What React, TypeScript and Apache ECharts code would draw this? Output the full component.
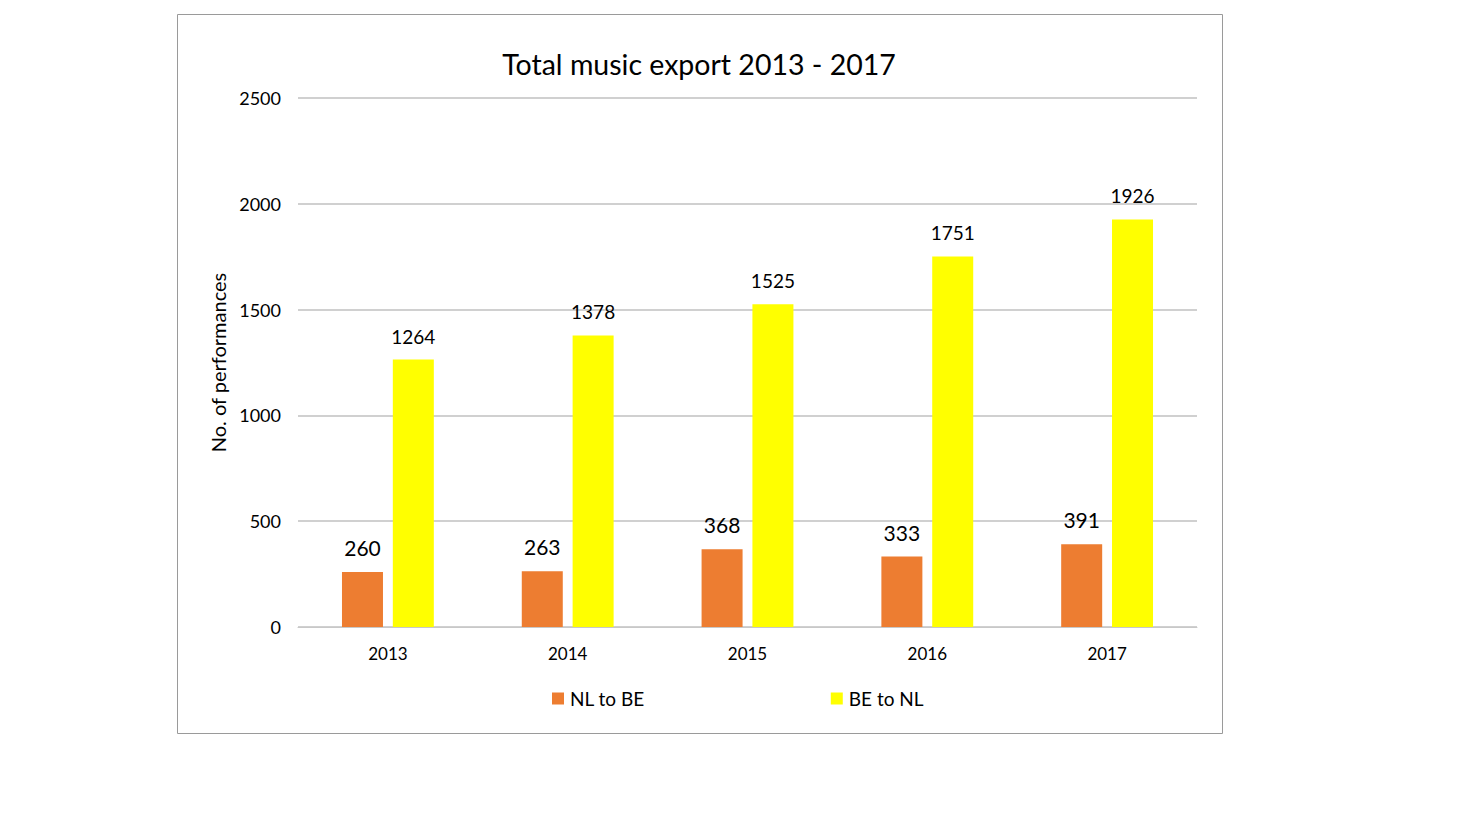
import React, { useEffect, useRef } from "react";
import * as echarts from "echarts";

const years = ["2013", "2014", "2015", "2016", "2017"];
const nlToBe = [260, 263, 368, 333, 391];
const beToNl = [1264, 1378, 1525, 1751, 1926];
const seriesNames = ["NL to BE", "BE to NL"];
const titleText = "Total music export 2013 - 2017";
const yAxisName = "No. of performances";

const FONT = "Lato, 'Open Sans', sans-serif";

export default function App() {
  const ref = useRef<HTMLDivElement>(null);
  useEffect(() => {
    if (!ref.current) return;
    const chart = echarts.init(ref.current, null, { renderer: "svg" });
    chart.setOption({
      animation: false,
      backgroundColor: "#ffffff",
      textStyle: { fontFamily: FONT },
      title: {
        text: titleText,
        left: 694,
        top: 44,
        textAlign: "center",
        textStyle: { fontFamily: FONT, fontSize: 28.5, fontWeight: "normal", color: "#000" },
      },
      graphic: [
        {
          type: "rect",
          shape: { x: 177.5, y: 14.5, width: 1045, height: 719 },
          style: { fill: "none", stroke: "#9a9a9a", lineWidth: 1 },
          silent: true,
        },
      ],
      legend: {
        data: seriesNames,
        left: 547,
        top: 684,
        itemWidth: 12,
        itemHeight: 12,
        itemGap: 186,
        icon: "rect",
        textStyle: { fontFamily: FONT, fontSize: 19, color: "#000", padding: [0, 0, 0, 1] },
      },
      grid: { left: 298, right: 263, top: 98, bottom: 193, containLabel: false },
      xAxis: {
        type: "category",
        data: years,
        axisLine: { show: true, lineStyle: { color: "#c8c8c8", width: 1 } },
        axisTick: { show: false },
        axisLabel: { fontFamily: FONT, fontSize: 17, color: "#000", margin: 18 },
      },
      yAxis: {
        type: "value",
        min: 0,
        max: 2500,
        interval: 500,
        name: yAxisName,
        nameLocation: "middle",
        nameGap: 68,
        nameRotate: 90,
        nameTextStyle: { fontFamily: FONT, fontSize: 20, color: "#000" },
        axisLine: { show: false },
        axisTick: { show: false },
        axisLabel: {
          fontFamily: FONT,
          fontSize: 18,
          color: "#000",
          margin: 17,
          formatter: (v: number) => String(v),
        },
        splitLine: { lineStyle: { color: "#d0d0d0", width: 2 } },
      },
      series: [
        {
          name: seriesNames[0],
          type: "bar",
          data: nlToBe,
          barWidth: 41,
          barGap: "24%",
          itemStyle: { color: "#ED7D31" },
          label: {
            show: true,
            position: "top",
            distance: 14,
            fontFamily: FONT,
            fontSize: 21,
            color: "#000",
          },
        },
        {
          name: seriesNames[1],
          type: "bar",
          data: beToNl,
          barWidth: 41,
          itemStyle: { color: "#FFFF00" },
          label: {
            show: true,
            position: "top",
            distance: 14,
            fontFamily: FONT,
            fontSize: 19,
            color: "#000",
          },
        },
      ],
    });
    return () => chart.dispose();
  }, []);
  return (
    <div
      ref={ref}
      style={{ position: "absolute", left: 0, top: 0, width: 1460, height: 820 }}
    />
  );
}
